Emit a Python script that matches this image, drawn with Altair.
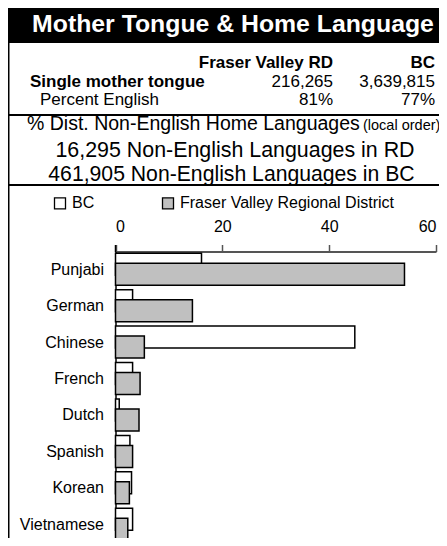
import altair as alt
import pandas as pd

# ---------------- data ----------------
languages = ["Punjabi", "German", "Chinese", "French", "Dutch", "Spanish", "Korean", "Vietnamese"]
bc_pct = [16.1, 3.2, 44.8, 3.2, 0.7, 2.7, 3.0, 3.2]
fv_pct = [54.1, 14.4, 5.4, 4.6, 4.4, 3.2, 2.6, 2.3]
series_names = ["BC", "Fraser Valley Regional District"]
x_ticks = [0, 20, 40, 60]

title_text = "Mother Tongue & Home Language"
table_cols = ["Fraser Valley RD", "BC"]
table_rows = ["Single mother tongue", "Percent English"]
fv_values = ["216,265", "81%"]
bc_values = ["3,639,815", "77%"]
dist_title = "% Dist. Non-English Home Languages"
dist_note = "(local order)"
rd_line = "16,295 Non-English Languages in RD"
bc_line = "461,905 Non-English Languages in BC"

W, H = 431, 530

records = []
for lang, b, f in zip(languages, bc_pct, fv_pct):
    records.append({"lang": lang, "series": series_names[0], "pct": b})
    records.append({"lang": lang, "series": series_names[1], "pct": f})
df = pd.DataFrame(records)


def text_layer(txt, x, y, size, weight="normal", align="left", color="black"):
    return alt.Chart(pd.DataFrame({"t": [txt]})).mark_text(
        align=align, baseline="alphabetic", fontSize=size, fontWeight=weight, color=color
    ).encode(text="t:N", x=alt.value(x), y=alt.value(y))


one = pd.DataFrame({"a": [0]})
header_rect = alt.Chart(one).mark_rect(color="black").encode(
    x=alt.value(0), x2=alt.value(W), y=alt.value(0), y2=alt.value(35)
)
line1 = alt.Chart(one).mark_rule(color="black", strokeWidth=2).encode(
    x=alt.value(0), x2=alt.value(W), y=alt.value(107)
)
line2 = alt.Chart(one).mark_rule(color="black", strokeWidth=2).encode(
    x=alt.value(0), x2=alt.value(W), y=alt.value(177)
)
left_border = alt.Chart(one).mark_rule(color="black", strokeWidth=1.5).encode(
    x=alt.value(0.75), y=alt.value(35), y2=alt.value(H)
)
y_axis_top = alt.Chart(one).mark_rule(color="black", strokeWidth=1.5).encode(
    x=alt.value(107.5), y=alt.value(237), y2=alt.value(244)
)

texts = [
    text_layer(title_text, 225, 24, 24.8, "bold", "center", "white"),
    text_layer(table_cols[0], 325, 60, 17, "bold", "right"),
    text_layer(table_cols[1], 427, 60, 17, "bold", "right"),
    text_layer(table_rows[0], 22, 79, 17, "bold", "left"),
    text_layer(fv_values[0], 325, 79, 17, "normal", "right"),
    text_layer(bc_values[0], 427, 79, 17, "normal", "right"),
    text_layer(table_rows[1], 32, 97, 17, "normal", "left"),
    text_layer(fv_values[1], 325, 97, 17, "normal", "right"),
    text_layer(bc_values[1], 427, 97, 17, "normal", "right"),
    text_layer(dist_title, 19, 122, 19.5, "normal", "left"),
    text_layer(dist_note, 355, 122, 14.5, "normal", "left"),
    text_layer(rd_line, 227, 149, 21.4, "normal", "center"),
    text_layer(bc_line, 223.5, 173, 21.2, "normal", "center"),
]

x_enc = alt.X(
    "pct:Q",
    scale=alt.Scale(domain=[0, 60], range=[107.5, 428], nice=False, zero=True),
    axis=alt.Axis(
        orient="top", offset=-243.5, values=x_ticks, title=None, grid=False,
        tickSize=7, labelPadding=10, labelFontSize=16, labelColor="black",
        domainColor="#555555", domainWidth=2, tickColor="#555555", tickWidth=1.5,
    ),
)
y_enc = alt.Y(
    "lang:N",
    sort=languages,
    scale=alt.Scale(range=[243.5, 535], paddingInner=0, paddingOuter=0),
    axis=alt.Axis(
        orient="left", offset=-107.5, title=None, ticks=False, tickSize=0,
        labelPadding=12, labelFontSize=16, labelColor="black",
        domainColor="black", domainWidth=1.5,
    ),
)
fill_enc = alt.Fill(
    "series:N",
    scale=alt.Scale(domain=series_names, range=["white", "#c0c0c0"]),
    legend=alt.Legend(
        orient="none", legendX=44, legendY=187, direction="horizontal", title=None,
        symbolType="square", symbolSize=121, symbolStrokeColor="black",
        symbolStrokeWidth=1.3, labelFontSize=16, labelOffset=4, labelLimit=400,
        columnPadding=64, padding=0, labelColor="black",
    ),
)

base = alt.Chart(df)
bc_bars = base.transform_filter(alt.datum.series == series_names[0]).mark_bar(
    height=22, yOffset=-5.5, stroke="black", strokeWidth=1.5
).encode(x=x_enc, y=y_enc, fill=fill_enc)
fv_bars = base.transform_filter(alt.datum.series == series_names[1]).mark_bar(
    height=22, yOffset=4.5, stroke="black", strokeWidth=1.5
).encode(x=x_enc, y=y_enc, fill=fill_enc)

chart = alt.layer(
    header_rect, line1, line2, left_border, y_axis_top, *texts, bc_bars, fv_bars
).properties(
    width=W, height=H, autosize=alt.AutoSizeParams(type="none"), padding=0
).configure(font="Liberation Sans").configure_view(stroke=None)

chart.save("out.html", embed_options={"renderer": "svg", "actions": False})
